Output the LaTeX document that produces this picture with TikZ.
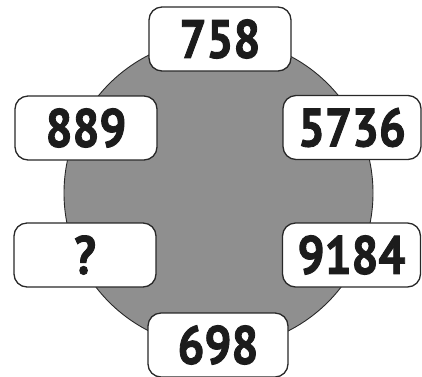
\documentclass[tikz,border=0pt]{standalone}
\usepackage{fontspec}
\setmainfont{PT Sans}
\newfontfamily\numfont{PT Sans}[BoldFeatures={FakeBold=1.6}, FakeStretch=0.88]
\definecolor{discgray}{RGB}{143,143,143}
\definecolor{edgegray}{RGB}{40,40,40}
\definecolor{textdark}{RGB}{28,28,28}
\tikzset{
  numbox/.style={draw=edgegray, line width=1.3pt, fill=white, rounded corners=13pt,
    minimum height=64pt, inner sep=0pt, text=textdark,
    font=\numfont\fontsize{54}{54}\selectfont\bfseries},
}
\begin{document}
\begin{tikzpicture}[x=1pt,y=-1pt]
\useasboundingbox (0,0) rectangle (422,376);
\node[circle, draw=edgegray, line width=0.9pt, fill=discgray, minimum size=309pt, inner sep=0pt] (disc) at (218.5,193) {};
\node[numbox, minimum width=142pt] (n758) at (220,39) {758};
\node[numbox, minimum width=142pt] (n889) at (86,128) {889};
\node[numbox, minimum width=138pt] (n5736) at (352,127.5) {5736};
\node[numbox, minimum width=142pt] (q) at (85,255) {?};
\node[numbox, minimum width=138pt] (n9184) at (351.5,255) {9184};
\node[numbox, minimum width=140pt] (n698) at (218,345) {698};
\end{tikzpicture}
\end{document}
